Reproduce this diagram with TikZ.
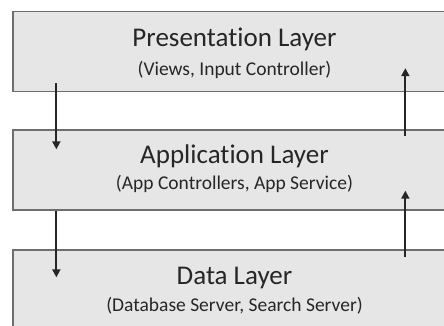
\documentclass[tikz,border=0pt]{standalone}
\usepackage{fontspec}
\setmainfont{Carlito}[Ligatures=NoCommon]
\usetikzlibrary{positioning,arrows.meta,calc}

\definecolor{layerfill}{HTML}{E6E6E6}
\definecolor{layerdraw}{HTML}{6E6E6E}

\tikzset{
  layer/.style={draw=layerdraw,fill=layerfill,line width=1.3pt,minimum width=443pt,minimum height=80pt,inner sep=0pt},
  ltitle/.style={font=\fontsize{27}{30}\selectfont,text=black!85,anchor=base,inner sep=0pt},
  lsub/.style={font=\fontsize{19.5}{22}\selectfont,text=black!85,anchor=base,inner sep=0pt},
  flow/.style={-{Triangle[length=8pt,width=8pt]},line width=1.8pt,black!85}
}

\begin{document}
\begin{tikzpicture}[x=1pt,y=-1pt]
\useasboundingbox (0,0) rectangle (444,326);
\clip (0,0) rectangle (444,326);
\fill[white] (0,0) rectangle (444,326);
% layers
\node[layer] (pres) at (234.5,51.5) {};
\node[layer] (app) at (234.5,170) {};
\node[layer] (data) at (234.5,290) {};
\node[ltitle] (presT) at ([yshift=-36pt]pres.north) {Presentation Layer};
\node[lsub] (presS) at ([yshift=-65pt]pres.north) {(Views, Input Controller)};
\node[ltitle] (appT) at ([yshift=-34pt]app.north) {Application Layer};
\node[lsub] (appS) at ([yshift=-60pt]app.north) {(App Controllers, App Service)};
\node[ltitle] (dataT) at ([yshift=-35pt]data.north) {Data Layer};
\node[lsub] (dataS) at ([yshift=-62pt]data.north) {(Database Server, Search Server)};
% requests go down, responses come up
\draw[flow] ([xshift=44pt,yshift=9pt]pres.south west) -- ([xshift=44pt,yshift=-20pt]app.north west);
\draw[flow] ([xshift=44pt]app.south west) -- ([xshift=44pt,yshift=-28pt]data.north west);
\draw[flow] ([xshift=393pt,yshift=-7pt]app.north west) -- ([xshift=393pt,yshift=24pt]pres.south west);
\draw[flow] ([xshift=393pt,yshift=-8pt]data.north west) -- ([xshift=393pt,yshift=20pt]app.south west);
\end{tikzpicture}
\end{document}
